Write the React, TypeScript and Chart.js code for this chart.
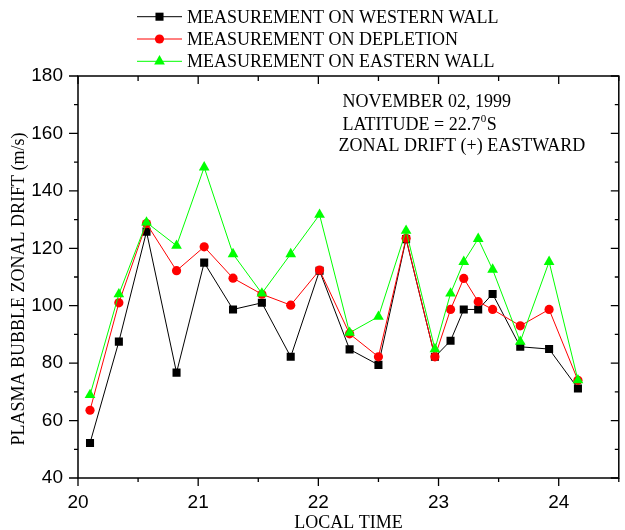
import React, { useEffect, useRef } from "react";
import { Chart, registerables } from "chart.js";

Chart.register(...registerables);

// ---- data ----
const localTime = [20.10, 20.34, 20.57, 20.82, 21.05, 21.29, 21.53, 21.77, 22.01, 22.26, 22.50, 22.73, 22.97, 23.10, 23.21, 23.33, 23.45, 23.68, 23.92, 24.16];
const westernWall = [52.2, 87.5, 125.8, 76.7, 115.0, 98.7, 101.0, 82.2, 112.2, 84.8, 79.4, 123.2, 82.2, 87.8, 98.7, 98.7, 104.1, 85.7, 84.9, 71.2];
const depletion = [63.6, 101.0, 128.6, 112.2, 120.5, 109.6, 104.0, 100.2, 112.4, 90.2, 82.2, 123.5, 82.2, 98.7, 109.5, 101.4, 98.7, 93.0, 98.7, 74.0];
const easternWall = [68.9, 104.0, 129.0, 120.9, 148.2, 118.0, 104.3, 118.0, 131.7, 90.6, 96.2, 126.1, 84.9, 104.3, 115.3, 123.3, 112.6, 87.5, 115.3, 74.1];

const seriesNames = ["MEASUREMENT ON WESTERN WALL", "MEASUREMENT ON DEPLETION", "MEASUREMENT ON EASTERN WALL"];
const xAxisTitle = "LOCAL TIME";
const yAxisTitle = "PLASMA BUBBLE ZONAL DRIFT (m/s)";
const noteLine1 = "NOVEMBER 02, 1999";
const noteLine2 = "LATITUDE = 22.7";
const noteLine2Sup = "0";
const noteLine2End = "S";
const noteLine3 = "ZONAL DRIFT (+) EASTWARD";

const X_MIN = 20;
const X_MAX = 24.5;
const Y_MIN = 40;
const Y_MAX = 180;

// ---- styles ----
const seriesStyles = [
  { color: "#000000", point: "rect", radius: 5.7 },
  { color: "#ff0000", point: "circle", radius: 4.6 },
  { color: "#00ff00", point: "triangle", radius: 6.2 },
];
const SERIF = '"Liberation Serif", "Times New Roman", serif';
const SANS = '"Liberation Sans", Arial, sans-serif';

function drawMarker(ctx: CanvasRenderingContext2D, kind: string, x: number, y: number, r: number, color: string) {
  ctx.fillStyle = color;
  ctx.beginPath();
  if (kind === "rect") {
    const s = Math.SQRT1_2 * r;
    ctx.rect(x - s, y - s, 2 * s, 2 * s);
  } else if (kind === "circle") {
    ctx.arc(x, y, r, 0, Math.PI * 2);
  } else {
    ctx.moveTo(x, y - r);
    ctx.lineTo(x + 0.866 * r, y + 0.5 * r);
    ctx.lineTo(x - 0.866 * r, y + 0.5 * r);
    ctx.closePath();
  }
  ctx.fill();
}

const decorPlugin = {
  id: "decor",
  afterDraw(chart: any) {
    const ctx: CanvasRenderingContext2D = chart.ctx;
    const { left, right, top, bottom } = chart.chartArea;
    const xs = chart.scales.x;
    const ys = chart.scales.y;
    ctx.save();
    ctx.strokeStyle = "#000";
    ctx.lineWidth = 1.5;
    ctx.strokeRect(left, top, right - left, bottom - top);
    ctx.lineWidth = 1.3;
    ctx.beginPath();
    for (let v = X_MIN; v <= X_MAX + 1e-9; v += 0.5) {
      const px = xs.getPixelForValue(v);
      const major = Math.abs(v - Math.round(v)) < 1e-6;
      const outLen = major ? 8 : 4;
      const inLen = major ? 8 : 5;
      ctx.moveTo(px, bottom);
      ctx.lineTo(px, bottom + outLen);
      ctx.moveTo(px, top);
      ctx.lineTo(px, top + inLen);
    }
    for (let v = Y_MIN; v <= Y_MAX + 1e-9; v += 10) {
      const py = ys.getPixelForValue(v);
      const major = v % 20 === 0;
      const outLen = major ? 9 : 4;
      const inLen = major ? 8 : 4;
      ctx.moveTo(left - outLen, py);
      ctx.lineTo(left, py);
      ctx.moveTo(right - inLen, py);
      ctx.lineTo(right, py);
    }
    ctx.stroke();

    // legend
    const rowY = [16.7, 39, 61.3];
    ctx.font = `18px ${SERIF}`;
    ctx.textBaseline = "alphabetic";
    ctx.textAlign = "left";
    seriesNames.forEach((name, i) => {
      const st = seriesStyles[i];
      const y = rowY[i];
      ctx.strokeStyle = st.color;
      ctx.lineWidth = 1;
      ctx.beginPath();
      ctx.moveTo(137, y);
      ctx.lineTo(182, y);
      ctx.stroke();
      drawMarker(ctx, st.point, 159.5, y, st.radius, st.color);
      ctx.fillStyle = "#000";
      ctx.fillText(name, 187, y + 6);
    });

    // annotation
    ctx.fillStyle = "#000";
    ctx.font = `18px ${SERIF}`;
    ctx.fillText(noteLine1, 342.5, 107);
    ctx.fillText(noteLine2, 342.5, 129.5);
    let w = ctx.measureText(noteLine2).width;
    ctx.font = `11px ${SERIF}`;
    ctx.fillText(noteLine2Sup, 342.5 + w + 0.5, 122);
    const w2 = ctx.measureText(noteLine2Sup).width;
    ctx.font = `18px ${SERIF}`;
    ctx.fillText(noteLine2End, 342.5 + w + w2 + 1, 129.5);
    ctx.fillText(noteLine3, 338.5, 150.5);

    // axis titles
    ctx.textAlign = "center";
    ctx.fillText(xAxisTitle, (left + right) / 2, 528);
    ctx.save();
    ctx.translate(24, 289);
    ctx.rotate(-Math.PI / 2);
    ctx.fillText(yAxisTitle, 0, 0);
    ctx.restore();
    ctx.restore();
  },
};

export default function App() {
  const canvasRef = useRef<HTMLCanvasElement | null>(null);

  useEffect(() => {
    document.body.style.margin = "0";
    const canvas = canvasRef.current;
    if (!canvas) return;
    const allSeries = [westernWall, depletion, easternWall];
    const datasets = allSeries.map((vals, i) => ({
      label: seriesNames[i],
      data: vals.map((v, j) => ({ x: localTime[j], y: v })),
      borderColor: seriesStyles[i].color,
      backgroundColor: seriesStyles[i].color,
      borderWidth: 1,
      pointStyle: seriesStyles[i].point as any,
      pointRadius: seriesStyles[i].radius,
      pointBorderWidth: 0,
      pointBackgroundColor: seriesStyles[i].color,
      tension: 0,
      order: 2 - i,
    }));
    const chart = new Chart(canvas, {
      type: "line",
      data: { datasets },
      options: {
        responsive: false,
        animation: false,
        layout: { padding: { top: 76, left: 0, right: 1, bottom: 0 } },
        plugins: { legend: { display: false }, tooltip: { enabled: false } },
        scales: {
          x: {
            type: "linear",
            min: X_MIN,
            max: X_MAX,
            grid: { display: false, drawTicks: false },
            border: { display: false },
            ticks: {
              stepSize: 1,
              includeBounds: false,
              padding: 13,
              color: "#000",
              font: { family: SANS, size: 19 },
              callback: (v: any) => (Number.isInteger(v) ? String(v) : ""),
            },
            afterFit: (s: any) => {
              s.height = 52;
            },
          },
          y: {
            min: Y_MIN,
            max: Y_MAX,
            grid: { display: false, drawTicks: false },
            border: { display: false },
            ticks: {
              stepSize: 20,
              padding: 15,
              color: "#000",
              font: { family: SANS, size: 19 },
            },
            afterFit: (s: any) => {
              s.width = 78;
            },
          },
        },
      },
      plugins: [decorPlugin],
    });
    return () => chart.destroy();
  }, []);

  return (
    <div style={{ width: 625, height: 530 }}>
      <canvas ref={canvasRef} width={625} height={530} style={{ display: "block" }} />
    </div>
  );
}
